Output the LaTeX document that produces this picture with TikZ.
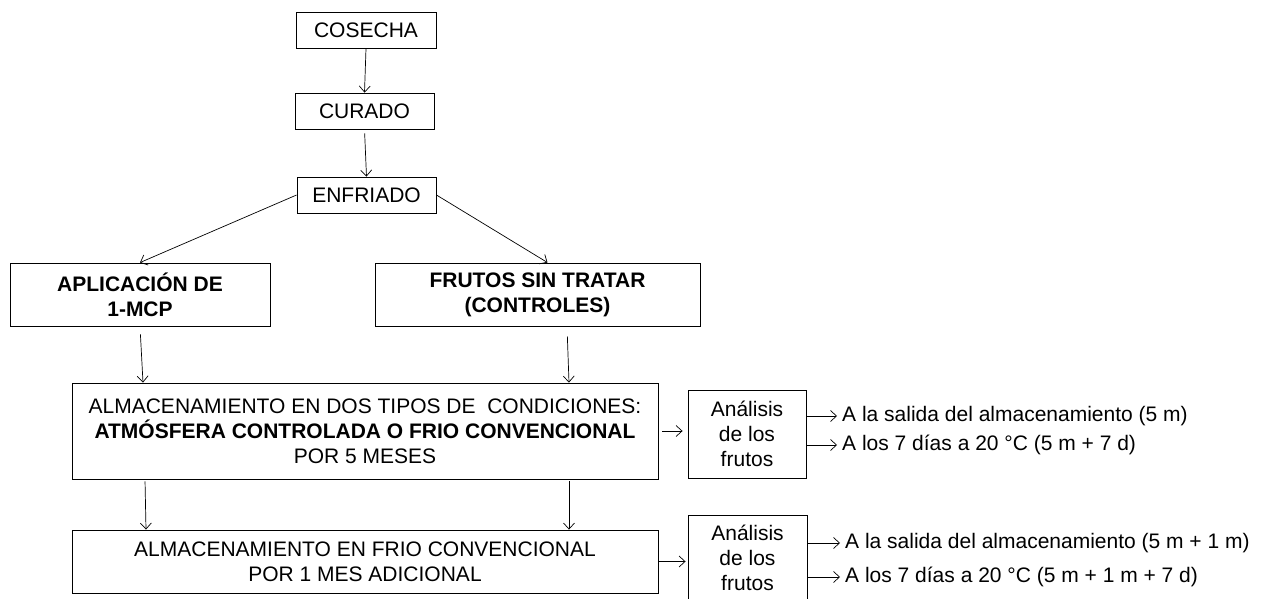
\documentclass[tikz,border=0pt]{standalone}
\usepackage{fontspec}
\setmainfont{Liberation Sans}
\usetikzlibrary{arrows.meta}
\begin{document}
\begin{tikzpicture}[x=1pt,y=-1pt,
  box/.style={draw, line width=0.9pt, inner sep=0pt, align=center, font=\fontsize{21}{25}\selectfont},
  arr/.style={-{Straight Barb[length=6pt,width=11pt,line width=0.7pt]}, line width=0.7pt},
  lbl/.style={anchor=west, inner sep=0pt, font=\fontsize{21}{25}\selectfont}]
\useasboundingbox (0,0) rectangle (1266,599);

\node[box, minimum width=140pt, minimum height=36pt] (cosecha) at (366,30) {COSECHA};
\node[box, minimum width=139pt, minimum height=36pt] (curado) at (364.5,111) {CURADO};
\node[box, minimum width=139pt, minimum height=36pt] (enfriado) at (366.5,195) {ENFRIADO};
\node[box, minimum width=260pt, minimum height=63pt] (aplic) at (140,294.5) {\bfseries APLICACIÓN DE\\\bfseries 1-MCP};
\node[box, minimum width=325pt, minimum height=63pt] (frutos) at (537.5,294.5) {\bfseries FRUTOS SIN TRATAR\\\bfseries (CONTROLES)};
\node[box, minimum width=586pt, minimum height=96pt] (alm1) at (365,431) {ALMACENAMIENTO EN DOS TIPOS DE\ \ CONDICIONES:\\\bfseries ATMÓSFERA CONTROLADA O FRIO CONVENCIONAL\\POR 5 MESES};
\node[box, minimum width=118pt, minimum height=88pt] (anal1) at (747,434) {Análisis\\de los\\frutos};
\node[box, minimum width=586pt, minimum height=63pt] (alm2) at (365,561.5) {ALMACENAMIENTO EN FRIO CONVENCIONAL\\POR 1 MES ADICIONAL};
\node[box, minimum width=119pt, minimum height=86pt] (anal2) at (747.5,558) {Análisis\\de los\\frutos};

\node[lbl] (t1) at (842,416) {A la salida del almacenamiento (5 m)};
\node[lbl] (t2) at (842,445) {A los 7 días a 20 °C (5 m + 7 d)};
\node[lbl] (t3) at (845,543) {A la salida del almacenamiento (5 m + 1 m)};
\node[lbl] (t4) at (845,577) {A los 7 días a 20 °C (5 m + 1 m + 7 d)};

\draw[arr] (cosecha.south) -- (curado.north);
\draw[arr, shorten <=4pt] (curado.south) -- (enfriado.north);
\draw[arr] (enfriado.west) -- (aplic.north);
\draw[arr] (enfriado.east) -- ([xshift=10pt]frutos.north);
\draw[arr, shorten <=8pt] (aplic.south) -- ([xshift=-222pt]alm1.north);
\draw[arr, shorten <=10pt] ([xshift=29.5pt]frutos.south) -- ([xshift=204pt]alm1.north);
\draw[arr, shorten <=2pt] ([xshift=-220pt]alm1.south) -- ([xshift=-219pt]alm2.north);
\draw[arr, shorten <=2pt] ([xshift=204pt]alm1.south) -- ([xshift=204pt]alm2.north);
\draw[arr, shorten <=4pt, shorten >=5pt] (alm1.east) -- (alm1.east -| anal1.west);
\draw[arr, shorten >=2pt] (alm2.east) -- (alm2.east -| anal2.west);
\draw[arr, shorten >=5pt] (anal1.east |- t1.west) -- (t1.west);
\draw[arr, shorten >=5pt] (anal1.east |- t2.west) -- (t2.west);
\draw[arr, shorten >=5pt] (anal2.east |- t3.west) -- (t3.west);
\draw[arr, shorten >=5pt] (anal2.east |- t4.west) -- (t4.west);
\end{tikzpicture}
\end{document}
